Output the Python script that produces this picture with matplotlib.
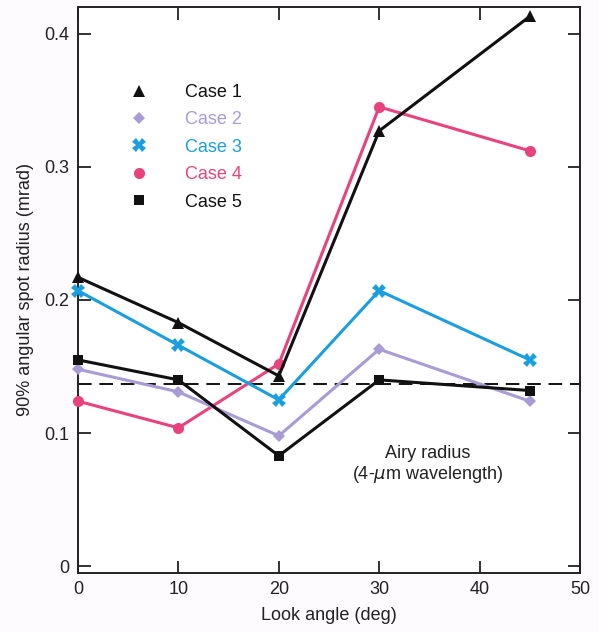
import numpy as np
import matplotlib.pyplot as plt
from matplotlib.lines import Line2D

plt.rcParams['font.family'] = ['Liberation Sans', 'DejaVu Sans']

# Look angle (deg)
angles = [0, 10, 20, 30, 45]

# 90% angular spot radius (mrad) per case
case1 = [0.217, 0.183, 0.143, 0.327, 0.413]
case2 = [0.148, 0.131, 0.098, 0.163, 0.124]
case3 = [0.207, 0.166, 0.125, 0.207, 0.155]
case4 = [0.124, 0.104, 0.152, 0.345, 0.312]
case5 = [0.155, 0.140, 0.083, 0.140, 0.132]
airy_radius = 0.137

labels = ['Case 1', 'Case 2', 'Case 3', 'Case 4', 'Case 5']
series = [case1, case2, case3, case4, case5]
colors = ['#111111', '#a99bd6', '#1b9ee0', '#e8437f', '#111111']
markers = ['^', 'D', 'X', 'o', 's']
msizes = [8, 6, 10, 8, 7]

fig = plt.figure(figsize=(5.99, 6.32), dpi=100)
ax = fig.add_axes([0.1302, 0.0934, 0.8381, 0.8955])

# draw in reverse so Case 1 ends up on top
for i in [3, 1, 2, 4, 0]:
    ax.plot(angles, series[i], color=colors[i], marker=markers[i],
            markersize=msizes[i], linewidth=2.2, markeredgewidth=0, zorder=3,
            clip_on=False)

ax.axhline(airy_radius, color='#111111', linestyle=(0, (7, 4)), linewidth=1.4, zorder=2)
ax.text(34.8, 0.076, 'Airy radius\n(4-$\\mu$m wavelength)', ha='center', va='center',
        fontsize=13, color='#222222', linespacing=1.15)

ax.set_xlim(0, 50)
ax.set_ylim(-0.005, 0.42)
ax.set_xticks([0, 10, 20, 30, 40, 50])
ax.set_yticks([0, 0.1, 0.2, 0.3, 0.4])
ax.set_yticklabels(['0', '0.1', '0.2', '0.3', '0.4'])
ax.tick_params(direction='in', length=9, width=1.3, top=True, right=True,
               labelsize=13, colors='#222222', pad=6)
for s in ax.spines.values():
    s.set_linewidth(1.4)
    s.set_color('#222222')

ax.set_xlabel('Look angle (deg)', fontsize=13, color='#222222', labelpad=6)
ax.set_ylabel('90% angular spot radius (mrad)', fontsize=13, color='#222222', labelpad=8)

handles = [Line2D([], [], color=colors[i], marker=markers[i], markersize=msizes[i],
                  linestyle='none', markeredgewidth=0) for i in range(5)]
ax.legend(handles, labels, labelcolor=colors, frameon=False, fontsize=13,
          loc='upper left', bbox_to_anchor=(0.072, 0.893), handletextpad=2.0,
          labelspacing=0.58, handlelength=1.0)

fig.savefig('out.png', dpi=100, facecolor='#fdfbfd')
